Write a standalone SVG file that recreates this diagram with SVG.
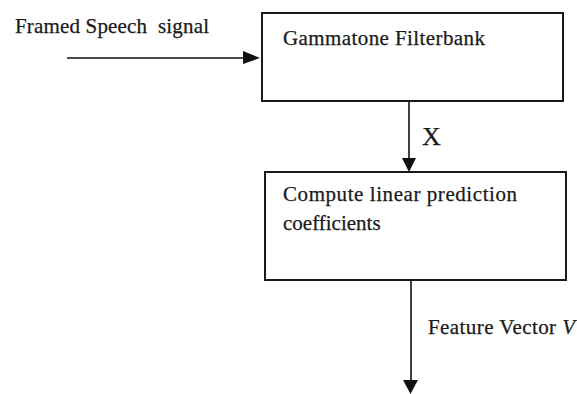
<svg xmlns="http://www.w3.org/2000/svg" width="577" height="394" viewBox="0 0 577 394">
<style>
.box{fill:#fff;stroke:#1a1a1a;stroke-width:2}
.t{font-family:"Liberation Serif","Times New Roman",serif;font-size:21px;fill:#1a1a1a;stroke:#1a1a1a;stroke-width:0.25}
.ln{stroke:#111;stroke-width:1.6;fill:none}
.hd{fill:#111}
</style>
<rect width="577" height="394" fill="#fff"/>
<text class="t" x="15" y="33" textLength="194" xml:space="preserve">Framed Speech  signal</text>
<g id="gammatone">
<rect class="box" x="262" y="13" width="301" height="88"/>
<text class="t" x="283" y="45" textLength="202">Gammatone Filterbank</text>
</g>
<g id="lpc">
<rect class="box" x="265" y="172" width="301" height="108"/>
<text class="t" x="283" y="201" textLength="234">Compute linear prediction</text>
<text class="t" x="283" y="230">coefficients</text>
</g>
<g id="connectors">
<line class="ln" x1="67" y1="58" x2="246" y2="58"/>
<polygon class="hd" points="243,51 260,58 243,64"/>
<line class="ln" x1="409" y1="102" x2="409" y2="160"/>
<polygon class="hd" points="402,158 416,158 409,172"/>
<text class="t" x="422" y="145" style="font-size:26px">X</text>
<line class="ln" x1="411" y1="281" x2="411" y2="382"/>
<polygon class="hd" points="403,380 418,380 410.5,394"/>
<text class="t" x="428" y="334" textLength="147">Feature Vector <tspan font-style="italic">V</tspan></text>
</g>
</svg>
